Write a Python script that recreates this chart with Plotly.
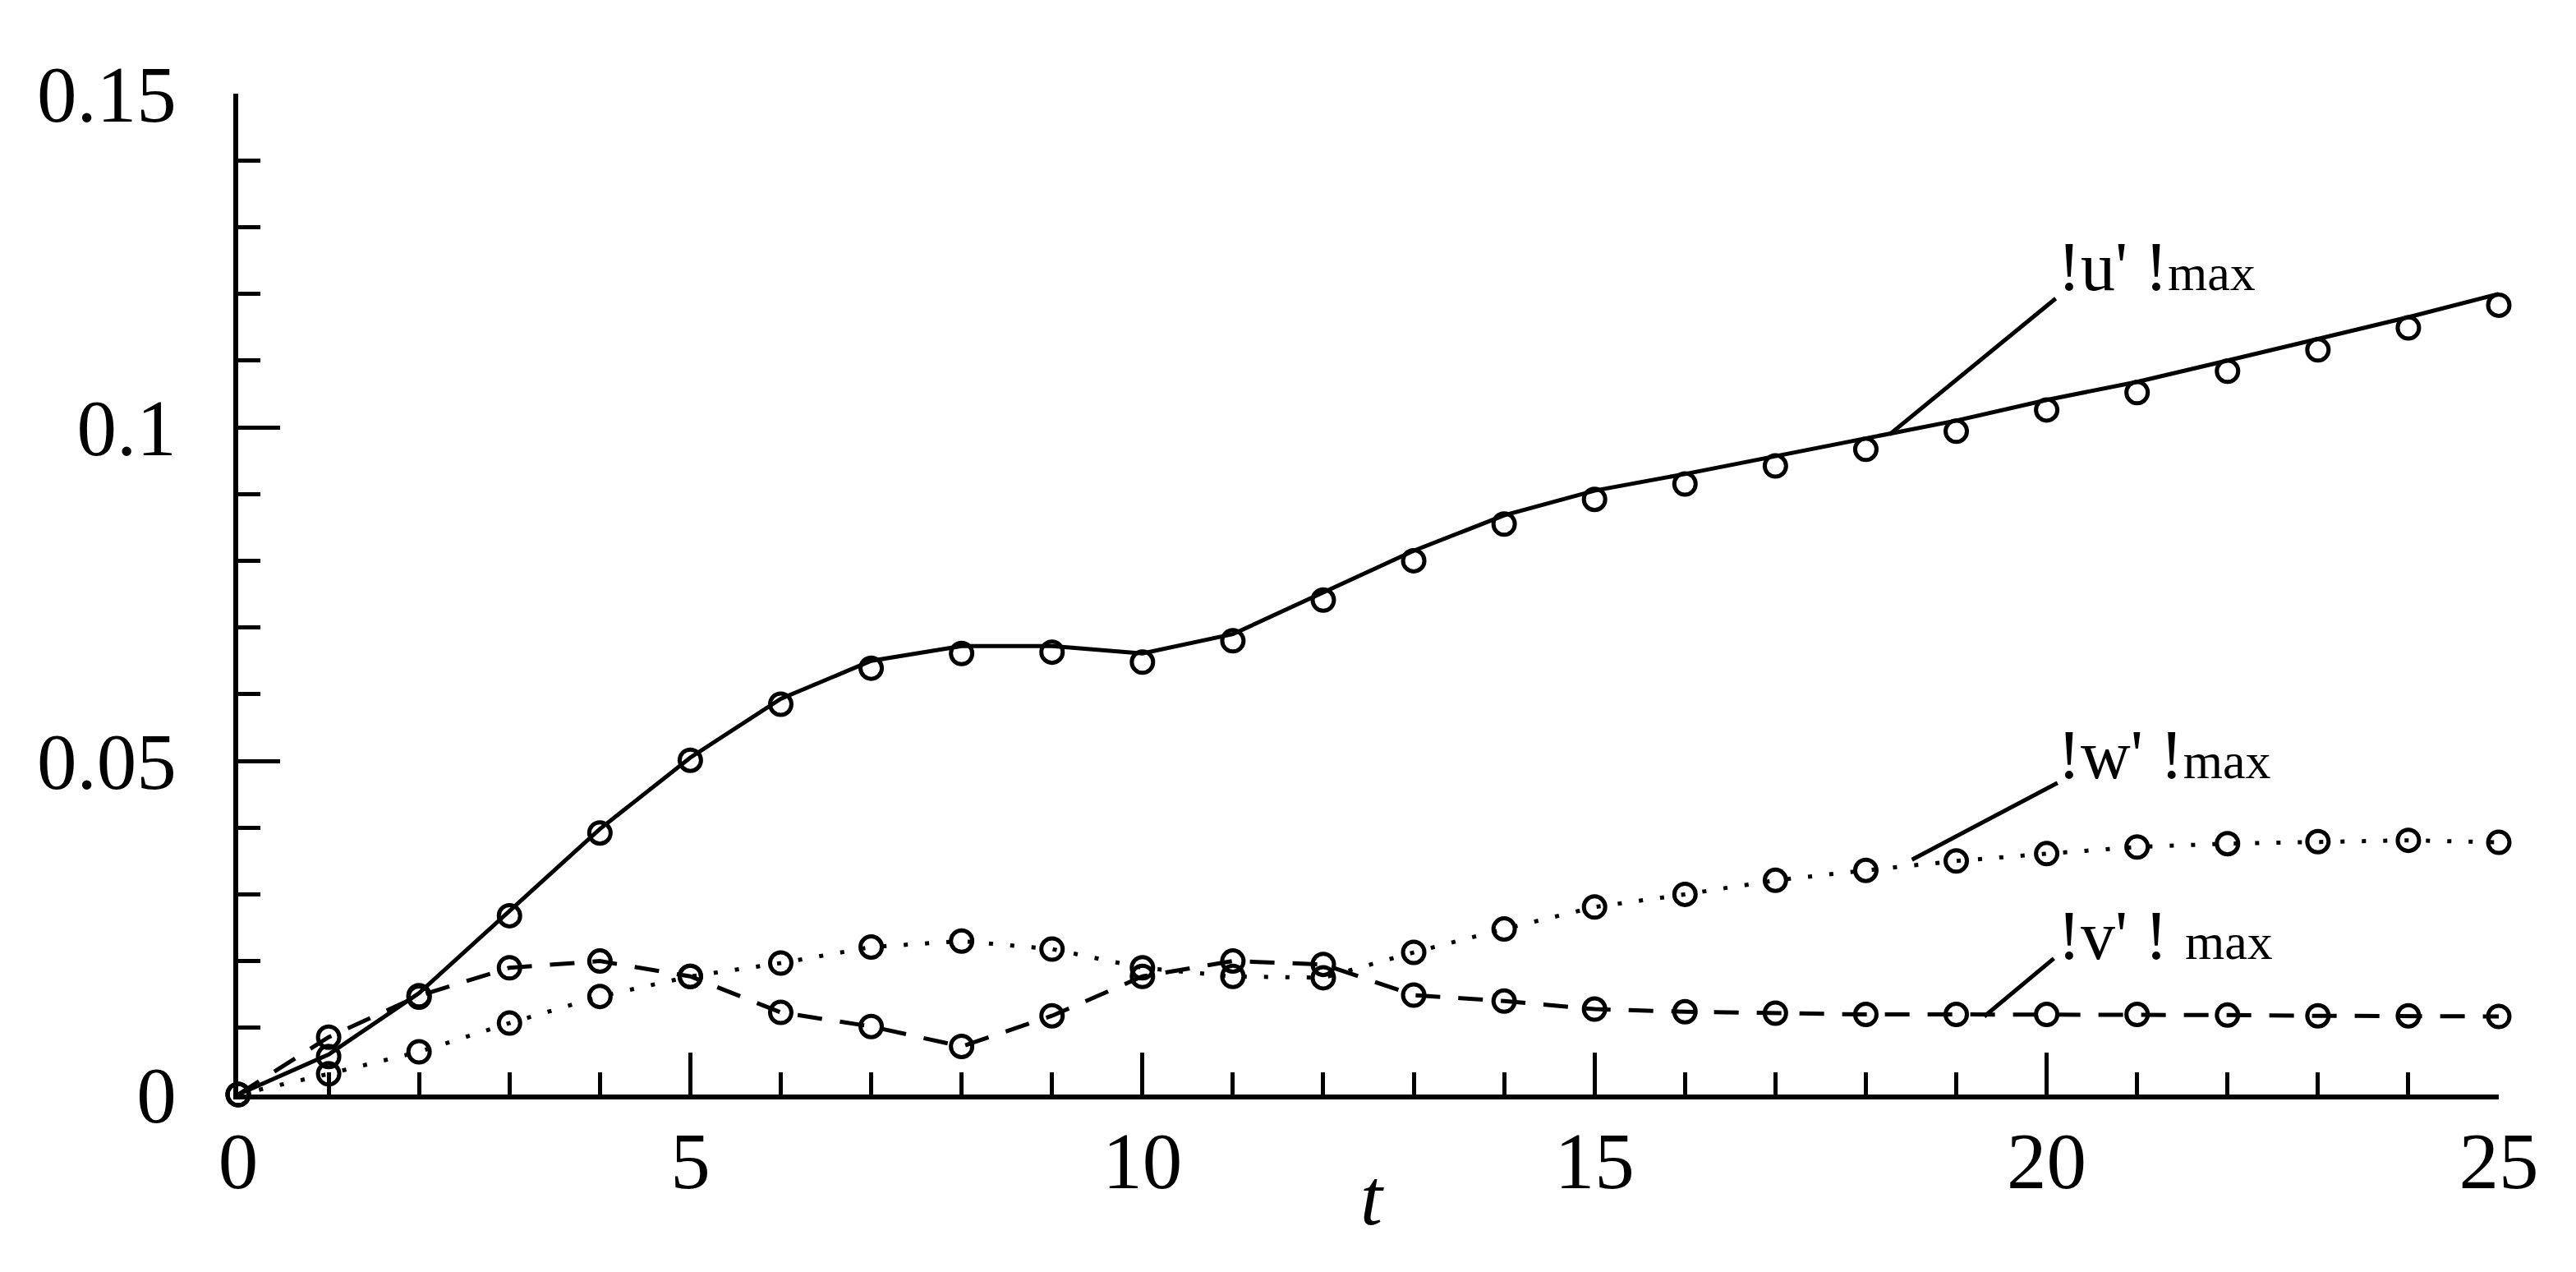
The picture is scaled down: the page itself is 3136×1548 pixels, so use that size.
import plotly.graph_objects as go

# ---------------- data ----------------
t = list(range(0, 26))

# |u'|max : simulation line and circle symbols
u_line = [0.0, 0.0060, 0.0152, 0.0275, 0.0398, 0.0505, 0.0593, 0.0650, 0.0672, 0.0672,
          0.0661, 0.0690, 0.0752, 0.0815, 0.0868, 0.0905, 0.0930, 0.0957, 0.0984, 0.1010,
          0.1041, 0.1068, 0.1100, 0.1132, 0.1165, 0.1200]
u_pts = [0.0, 0.0057, 0.0146, 0.0268, 0.0392, 0.0501, 0.0585, 0.0639, 0.0661, 0.0663,
         0.0648, 0.0680, 0.0741, 0.0800, 0.0855, 0.0892, 0.0915, 0.0942, 0.0967, 0.0994,
         0.1026, 0.1052, 0.1084, 0.1116, 0.1149, 0.1183]

# |w'|max (dotted)
w_pts = [0.0, 0.0031, 0.0064, 0.0107, 0.0147, 0.0177, 0.0197, 0.0221, 0.0230, 0.0218,
         0.0190, 0.0177, 0.0175, 0.0213, 0.0248, 0.0281, 0.0300, 0.0321, 0.0336, 0.0350,
         0.0361, 0.0371, 0.0376, 0.0379, 0.0381, 0.0378]

# |v'|max (dashed)
v_pts = [0.0, 0.0086, 0.0148, 0.0190, 0.0200, 0.0177, 0.0123, 0.0102, 0.0072, 0.0118,
         0.0177, 0.0200, 0.0195, 0.0149, 0.0140, 0.0128, 0.0124, 0.0122, 0.0120, 0.0120,
         0.0120, 0.0120, 0.0119, 0.0118, 0.0118, 0.0117]

x_ticks = [0, 5, 10, 15, 20, 25]
y_ticks = [0, 0.05, 0.1, 0.15]
y_tick_labels = ["0", "0.05", "0.1", "0.15"]

# curve labels and their leader lines
label_texts = ["!u' !", "!w' !", "!v' ! "]
label_x = [20.1, 20.1, 20.1]
label_y = [0.1196, 0.0464, 0.0193]
leader_x = [[18.26, 20.10], [18.51, 20.12], [19.31, 20.08]]
leader_y = [[0.0989, 0.1193], [0.0352, 0.0467], [0.0117, 0.0204]]

# ---------------- figure ----------------
FONT = "Liberation Serif, Times New Roman, serif"
BLACK = "#000000"
LW = 5
MSIZE = 26

fig = go.Figure()

fig.add_trace(go.Scatter(x=t, y=u_line, mode="lines",
                         line=dict(color=BLACK, width=LW), cliponaxis=False,
                         showlegend=False, hoverinfo="skip"))
fig.add_trace(go.Scatter(x=t, y=u_pts, mode="markers",
                         marker=dict(symbol="circle-open", size=MSIZE, color=BLACK,
                                     line=dict(color=BLACK, width=5)),
                         cliponaxis=False, showlegend=False))
fig.add_trace(go.Scatter(x=t, y=w_pts, mode="lines+markers",
                         line=dict(color=BLACK, width=LW, dash="5px,21px"),
                         marker=dict(symbol="circle-open", size=MSIZE, color=BLACK,
                                     line=dict(color=BLACK, width=5)),
                         cliponaxis=False, showlegend=False))
fig.add_trace(go.Scatter(x=t, y=v_pts, mode="lines+markers",
                         line=dict(color=BLACK, width=LW, dash="30px,22px"),
                         marker=dict(symbol="circle-open", size=MSIZE, color=BLACK,
                                     line=dict(color=BLACK, width=5)),
                         cliponaxis=False, showlegend=False))

# leader lines
for lx, ly in zip(leader_x, leader_y):
    fig.add_trace(go.Scatter(x=lx, y=ly, mode="lines",
                             line=dict(color=BLACK, width=LW), cliponaxis=False,
                             showlegend=False, hoverinfo="skip"))

for txt, lx, ly in zip(label_texts, label_x, label_y):
    fig.add_annotation(x=lx, y=ly, xref="x", yref="y",
                       text=txt + '<span style="font-size:62px">max</span>',
                       showarrow=False, xanchor="left", yanchor="bottom",
                       yshift=-12, font=dict(family=FONT, size=84, color=BLACK))

# axis title t
fig.add_annotation(x=12.54, y=-0.1034, xref="x", yref="paper",
                   text="<i>t</i>", showarrow=False, xanchor="center", yanchor="middle",
                   font=dict(family=FONT, size=97, color=BLACK))

fig.update_xaxes(range=[0, 25], tickvals=x_ticks, ticktext=[str(v) for v in x_ticks],
                 showline=True, linecolor=BLACK, linewidth=5.5,
                 ticks="inside", ticklen=51, tickwidth=4.5, tickcolor=BLACK,
                 minor=dict(dtick=1, tick0=0, ticks="inside", ticklen=27,
                            tickwidth=4.5, tickcolor=BLACK),
                 showgrid=False, zeroline=False, ticklabelstandoff=-8,
                 tickfont=dict(family=FONT, size=97, color=BLACK))
fig.update_yaxes(range=[0, 0.15], tickvals=y_ticks, ticktext=y_tick_labels,
                 showline=True, linecolor=BLACK, linewidth=5.5,
                 ticks="inside", ticklen=51, tickwidth=4.5, tickcolor=BLACK,
                 minor=dict(dtick=0.01, tick0=0, ticks="inside", ticklen=27,
                            tickwidth=4.5, tickcolor=BLACK),
                 showgrid=False, zeroline=False, ticklabelstandoff=50,
                 tickfont=dict(family=FONT, size=97, color=BLACK))

fig.update_layout(width=3136, height=1548,
                  margin=dict(l=282, r=102, t=106, b=224, autoexpand=False),
                  paper_bgcolor="white", plot_bgcolor="white",
                  showlegend=False)

fig.write_html("out.html")
